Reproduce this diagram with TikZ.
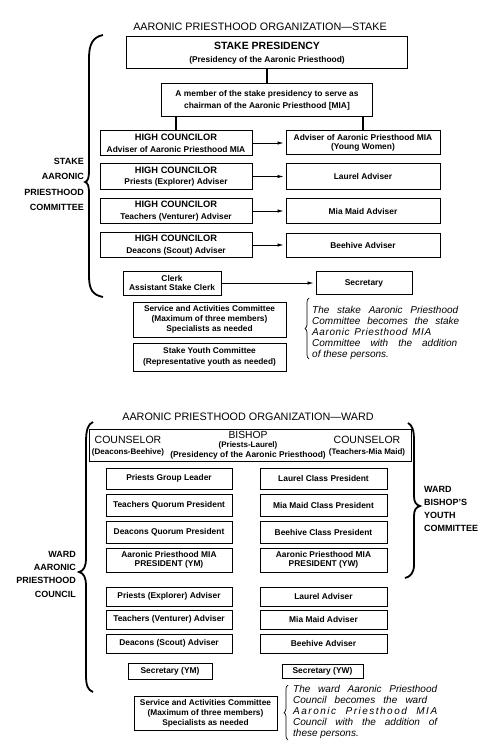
\documentclass[tikz,border=0pt]{standalone}
\usepackage{fontspec}
\setmainfont{Liberation Sans}
\usetikzlibrary{arrows.meta,decorations.pathreplacing}

\begin{document}
\begin{tikzpicture}[x=1pt,y=-1pt,
        box/.style={draw,line width=1pt,align=center,inner sep=0pt,font=\fontsize{8.4}{9.6}\selectfont\bfseries},
        hc/.style={box,minimum width=152pt,minimum height=25pt},
        adv/.style={box,minimum width=154pt,minimum height=25pt},
        lcol/.style={box,minimum width=126pt},
        rcol/.style={box,minimum width=127pt},
        heading/.style={font=\fontsize{10.8}{12}\selectfont},
        side label/.style={font=\fontsize{9}{15.6}\selectfont\bfseries,inner sep=0pt},
        note/.style={font=\fontsize{10}{11}\selectfont\itshape,align=left,inner sep=0pt},
        head text/.style={align=center,inner sep=0pt,font=\fontsize{8}{10.5}\selectfont\bfseries},
        link/.style={line width=2pt},
        arrow/.style={-{Latex[length=6pt,width=3.5pt]},line width=0.8pt,shorten >=2pt},
        big brace/.style={line width=1.8pt},
        small brace/.style={decorate,decoration={brace,amplitude=4pt},line width=0.7pt}]
        \useasboundingbox (0,0) rectangle (500,754);

        % stake
        \node[heading] (stitle) at (260,27) {AARONIC PRIESTHOOD ORGANIZATION—STAKE};
        \node[box,minimum width=281pt,minimum height=32pt] (pres) at (267,53)
            {{\fontsize{10.5}{12}\selectfont STAKE PRESIDENCY}\\[3pt](Presidency of the Aaronic Priesthood)};
        \node[box,minimum width=211pt,minimum height=33pt] (chair) at (267,100.5)
            {A member of the stake presidency to serve as\\[3pt]chairman of the Aaronic Priesthood [MIA]};
        \node[hc] (hc1) at (176,143) {{\fontsize{9.3}{11}\selectfont HIGH COUNCILOR}\\[2pt]Adviser of Aaronic Priesthood MIA};
        \node[adv,minimum height=24pt] (yw) at (363,143) {Adviser of Aaronic Priesthood MIA\\(Young Women)};
        \node[hc] (hc2) at (176,176.5) {{\fontsize{9.3}{11}\selectfont HIGH COUNCILOR}\\[2pt]Priests (Explorer) Adviser};
        \node[adv] (laurel) at (363,176.5) {Laurel Adviser};
        \node[hc] (hc3) at (176,211) {{\fontsize{9.3}{11}\selectfont HIGH COUNCILOR}\\[2pt]Teachers (Venturer) Adviser};
        \node[adv] (mia) at (363,211) {Mia Maid Adviser};
        \node[hc] (hc4) at (176,245) {{\fontsize{9.3}{11}\selectfont HIGH COUNCILOR}\\[2pt]Deacons (Scout) Adviser};
        \node[adv,minimum height=24pt] (beehive) at (363,245) {Beehive Adviser};
        \node[box,minimum width=98pt,minimum height=24pt] (clerk) at (172,283) {Clerk\\Assistant Stake Clerk};
        \node[box,minimum width=96pt,minimum height=23pt] (sec) at (364,283) {Secretary};
        \node[box,minimum width=153pt,minimum height=35pt,font=\fontsize{8.3}{10}\selectfont\bfseries] (svc) at (209.5,319.5)
            {Service and Activities Committee\\(Maximum of three members)\\Specialists as needed};
        \node[box,minimum width=153pt,minimum height=28pt,font=\fontsize{8.3}{11}\selectfont\bfseries] (youth) at (209.5,357)
            {Stake Youth Committee\\(Representative youth as needed)};
        \node[side label,anchor=east,align=right] (slabel) at (84,184.5) {STAKE\\AARONIC\\PRIESTHOOD\\COMMITTEE};
        \node[note,anchor=west] (snote) at (312,333)
            {\makebox[146pt][s]{The stake Aaronic Priesthood}\\
             \makebox[147pt][s]{Committee becomes the stake}\\
             \makebox[119pt][s]{\addfontfeature{LetterSpace=6}Aaronic Priesthood MIA}\\
             \makebox[145pt][s]{Committee with the addition}\\
             of these persons.};

        \draw[link] (pres) -- (chair);
        \draw[link] (hc1.north) -- (hc1.north |- chair.south);
        \draw[link] (yw.north) -- (yw.north |- chair.south);
        \path (hc1) edge[arrow] (yw)
            (hc2) edge[arrow] (laurel)
            (hc3) edge[arrow] (mia)
            (hc4) edge[arrow] (beehive)
            (clerk) edge[arrow] (sec);

        \draw[big brace] (103,35) .. controls (93,37) and (89,44) .. (89,58) -- (89,170)
            .. controls (89,178) and (88,181) .. (85,182) .. controls (88,183) and (89,186) .. (89,194)
            -- (89,276) .. controls (89,290) and (93,295) .. (103,297);
        \draw[small brace] (309,359) -- (309,298);

        % ward
        \node[heading] (wtitle) at (248,417) {AARONIC PRIESTHOOD ORGANIZATION—WARD};
        \node[box,minimum width=322pt,minimum height=32pt] (bishbox) at (250,445) {};
        \node[head text] (cl) at (128,446)
            {{\fontsize{10.5}{10.5}\selectfont\mdseries COUNSELOR}\\(Deacons-Beehive)};
        \node[head text,font=\fontsize{8}{9.6}\selectfont\bfseries] (bish) at (248,445)
            {{\fontsize{10.3}{9.6}\selectfont\mdseries BISHOP}\\(Priests-Laurel)\\
             {\fontsize{8.4}{9.6}\selectfont (Presidency of the Aaronic Priesthood)}};
        \node[head text] (cr) at (367,446)
            {{\fontsize{10.5}{10.5}\selectfont\mdseries COUNSELOR}\\(Teachers-Mia Maid)};

        \node[lcol,minimum height=21pt] (pgl) at (169,478.5) {Priests Group Leader};
        \node[lcol,minimum height=22pt] (tqp) at (169,505) {Teachers Quorum President};
        \node[lcol,minimum height=22pt] (dqp) at (169,532) {Deacons Quorum President};
        \node[lcol,minimum height=24pt] (ympres) at (169,560) {Aaronic Priesthood MIA\\PRESIDENT (YM)};
        \node[lcol,minimum height=19pt] (padv) at (169,596.5) {Priests (Explorer) Adviser};
        \node[lcol,minimum height=19pt] (tadv) at (169,619.5) {Teachers (Venturer) Adviser};
        \node[lcol,minimum height=19pt] (dadv) at (169,643.5) {Deacons (Scout) Adviser};
        \node[rcol,minimum height=21pt] (lcp) at (323.5,478.5) {Laurel Class President};
        \node[rcol,minimum height=22pt] (mmcp) at (323.5,505) {Mia Maid Class President};
        \node[rcol,minimum height=22pt] (bcp) at (323.5,532) {Beehive Class President};
        \node[rcol,minimum height=24pt] (ywpres) at (323.5,560) {Aaronic Priesthood MIA\\PRESIDENT (YW)};
        \node[rcol,minimum height=19pt] (ladv) at (323.5,596.5) {Laurel Adviser};
        \node[rcol,minimum height=19pt] (madv) at (323.5,619.5) {Mia Maid Adviser};
        \node[rcol,minimum height=19pt] (badv) at (323.5,643.5) {Beehive Adviser};
        \node[box,minimum width=84pt,minimum height=16pt] (secym) at (170,671) {Secretary (YM)};
        \node[box,minimum width=81pt,minimum height=14pt] (secyw) at (322.5,671) {Secretary (YW)};
        \node[box,minimum width=143pt,minimum height=34pt,font=\fontsize{8.3}{10}\selectfont\bfseries] (wsvc) at (205.5,713)
            {Service and Activities Committee\\(Maximum of three members)\\Specialists as needed};

        \node[side label,anchor=east,align=right,font=\fontsize{9}{13.3}\selectfont\bfseries] (wlabel) at (76,574)
            {WARD\\AARONIC\\PRIESTHOOD\\COUNCIL};
        \node[side label,anchor=west,align=left,font=\fontsize{9}{13}\selectfont\bfseries] (ylabel) at (424,508.5)
            {WARD\\BISHOP'S\\YOUTH\\COMMITTEE};
        \node[note,anchor=west] (wnote) at (293,712)
            {\makebox[144pt][s]{The ward Aaronic Priesthood}\\
             \makebox[134pt][s]{Council becomes the ward}\\
             \makebox[144pt][s]{\addfontfeature{LetterSpace=15}Aaronic Priesthood MIA}\\
             \makebox[144pt][s]{Council with the addition of}\\
             these persons.};

        \draw[big brace] (93,422) .. controls (88,424) and (86,430) .. (86,442) -- (86,558)
            .. controls (86,566) and (84,571) .. (79,572) .. controls (84,573) and (86,578) .. (86,586)
            -- (86,675) .. controls (86,686) and (88,690) .. (93,692);
        \draw[big brace] (408,423) .. controls (412,425) and (414,430) .. (414,440) -- (414,496)
            .. controls (414,502) and (416,505) .. (420,506) .. controls (416,507) and (414,510) .. (414,516)
            -- (414,565) .. controls (414,573) and (410,577) .. (405,578);
        \draw[small brace] (288,740) -- (288,685);
\end{tikzpicture}
\end{document}
